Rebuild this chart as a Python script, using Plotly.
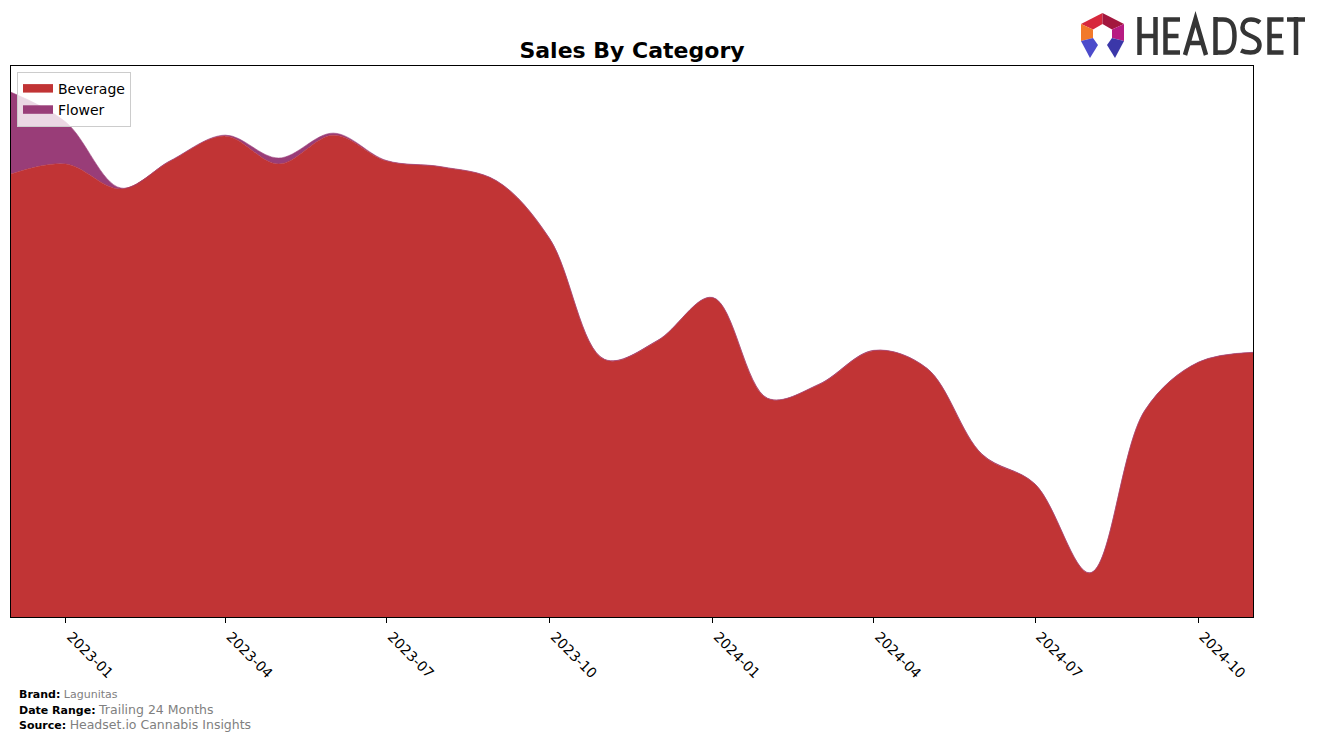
import plotly.graph_objects as go

# ---------------- data ----------------
months = ["2022-12-01", "2023-01-01", "2023-02-01", "2023-03-01", "2023-04-01", "2023-05-01",
          "2023-06-01", "2023-07-01", "2023-08-01", "2023-09-01", "2023-10-01", "2023-11-01",
          "2023-12-01", "2024-01-01", "2024-02-01", "2024-03-01", "2024-04-01", "2024-05-01",
          "2024-06-01", "2024-07-01", "2024-08-01", "2024-09-01", "2024-10-01", "2024-11-01"]

beverage = [444, 454, 429, 457, 482, 454, 483, 457, 451, 437, 379, 258,
            277, 320, 219, 233, 267, 249, 163, 133, 44, 207, 255, 265]

flower = [82, 42, 1, 0.5, 1, 6, 2, 0.5, 0.3, 0.3, 0.3, 0.3,
          0.3, 0.3, 0.3, 0.3, 0.3, 0.3, 0.3, 0.3, 0.3, 0.3, 0.3, 0.3]

tick_vals = ["2023-01-01", "2023-04-01", "2023-07-01", "2023-10-01",
             "2024-01-01", "2024-04-01", "2024-07-01", "2024-10-01"]
tick_text = ["2023-01", "2023-04", "2023-07", "2023-10",
             "2024-01", "2024-04", "2024-07", "2024-10"]

series_names = ["Beverage", "Flower"]
series_colors = ["#C13435", "#993D78"]

# ---------------- geometry helpers ----------------
W, H = 1317, 740
PL, PR, PT, PB = 11, 1253, 66, 617


def px(x):
    return (x - PL) / (PR - PL)


def py(y):
    return (PB - y) / (PB - PT)


fig = go.Figure()
for name, vals, col in zip(series_names, [beverage, flower], series_colors):
    fig.add_trace(go.Scatter(
        x=months, y=vals, name=name, mode="lines",
        stackgroup="one", line=dict(color=col, width=0.6, shape="spline", smoothing=1.0),
        fillcolor=col,
    ))

totals = [b + f for b, f in zip(beverage, flower)]
ymax = max(totals) * 1.05

font_main = "DejaVu Sans, Verdana, sans-serif"

fig.update_layout(
    width=W, height=H,
    margin=dict(l=PL, r=W - PR, t=PT, b=H - PB),
    paper_bgcolor="white", plot_bgcolor="white",
    font=dict(family=font_main, size=14, color="black"),
    title=dict(text="<b>Sales By Category</b>", x=px(632), xref="paper",
               y=1 - 50 / H, yref="container", xanchor="center", yanchor="middle",
               font=dict(size=22, family=font_main, color="black")),
    showlegend=True,
    legend=dict(x=px(17), y=py(72), xanchor="left", yanchor="top",
                bgcolor="rgba(255,255,255,0.8)", bordercolor="#CCCCCC", borderwidth=1,
                font=dict(size=14, family=font_main), traceorder="normal",
                itemsizing="constant", tracegroupgap=0),
    xaxis=dict(range=[months[0], months[-1]], tickvals=tick_vals, ticktext=tick_text,
               tickangle=45, ticks="outside", ticklen=5, tickcolor="black",
               ticklabelshift=5,
               showline=True, linecolor="black", linewidth=1, mirror=True,
               showgrid=False, zeroline=False, tickfont=dict(size=14, color="black")),
    yaxis=dict(range=[0, ymax], showticklabels=False, ticks="",
               showline=True, linecolor="black", linewidth=1, mirror=True,
               showgrid=False, zeroline=False),
)

# ---------------- footer ----------------
footer = [
    ("Brand:", "Lagunitas", 694, 11),
    ("Date Range:", "Trailing 24 Months", 709, 12.5),
    ("Source:", "Headset.io Cannabis Insights", 724, 12.5),
]
for lab, val, yy, vs in footer:
    fig.add_annotation(
        x=px(17), y=py(yy), xref="paper", yref="paper", xanchor="left", yanchor="middle",
        showarrow=False, align="left",
        text=f"<b>{lab}</b> <span style='color:#808080;font-size:{vs}px'>{val}</span>",
        font=dict(size=11, family=font_main, color="black"),
    )


# ---------------- logo ----------------
def P(x, y):
    return f"{px(x):.5f},{py(y):.5f}"


def poly(points):
    return "M " + " L ".join(P(x, y) for x, y in points) + " Z"


# icon segments (pixel coordinates)
top_o, ur_o, lr_o, ll_o, ul_o = (1102.5, 13), (1124, 24), (1124, 41), (1081, 41), (1081, 24)
top_i, ur_i, lr_i, ll_i, ul_i = (1102.5, 24), (1112, 29.5), (1112, 38), (1093, 38), (1093, 29.5)
icon = [
    ([ul_o, top_o, top_i, ul_i], "#D7283C"),
    ([top_o, ur_o, ur_i, top_i], "#A3173E"),
    ([ur_o, lr_o, lr_i, ur_i], "#B81C82"),
    ([ll_o, ul_o, ul_i, ll_i], "#F2792A"),
    ([ll_o, ll_i, (1098, 45), (1090, 58)], "#4C4BCB"),
    ([lr_i, lr_o, (1115, 58), (1107, 45)], "#3B37A9"),
]
for pts, col in icon:
    fig.add_shape(type="path", xref="paper", yref="paper", path=poly(pts),
                  fillcolor=col, line=dict(width=0), layer="above")

# HEADSET lettering as stroked paths
letters = [
    # H
    f"M {P(1139.5,17)} L {P(1139.5,55)} M {P(1155.5,17)} L {P(1155.5,55)} "
    f"M {P(1139.5,36)} L {P(1155.5,36)}",
    # E
    f"M {P(1180,19.5)} L {P(1165.5,19.5)} L {P(1165.5,52.5)} L {P(1180,52.5)} "
    f"M {P(1165.5,36)} L {P(1178.5,36)}",
    # A
    f"M {P(1185,55)} L {P(1195.5,19)} L {P(1206,55)} M {P(1189,43)} L {P(1202,43)}",
    # D
    f"M {P(1215.5,17)} L {P(1215.5,55)} M {P(1215.5,19.5)} L {P(1223,19.5)} "
    f"C {P(1231.5,19.5)} {P(1234.5,25)} {P(1234.5,36)} "
    f"C {P(1234.5,47)} {P(1231.5,52.5)} {P(1223,52.5)} L {P(1215.5,52.5)}",
    # S
    f"M {P(1260,22.5)} C {P(1257,20)} {P(1254,19.5)} {P(1251,19.5)} "
    f"C {P(1245.5,19.5)} {P(1242.5,23)} {P(1242.5,27.5)} "
    f"C {P(1242.5,32.5)} {P(1246.5,34)} {P(1251,36)} "
    f"C {P(1256,38)} {P(1259.5,40)} {P(1259.5,45)} "
    f"C {P(1259.5,50)} {P(1256,52.5)} {P(1250.5,52.5)} "
    f"C {P(1247,52.5)} {P(1244,52)} {P(1241,50.5)}",
    # E
    f"M {P(1283.5,19.5)} L {P(1269.5,19.5)} L {P(1269.5,52.5)} L {P(1283.5,52.5)} "
    f"M {P(1269.5,36)} L {P(1282,36)}",
    # T
    f"M {P(1287,19.5)} L {P(1305,19.5)} M {P(1296,17)} L {P(1296,55)}",
]
for d in letters:
    fig.add_shape(type="path", xref="paper", yref="paper", path=d,
                  fillcolor="rgba(0,0,0,0)", line=dict(color="#353535", width=4.5),
                  layer="above")

fig.write_html("out.html", config={"displayModeBar": False},
               post_script="document.body.style.margin='0px';")
